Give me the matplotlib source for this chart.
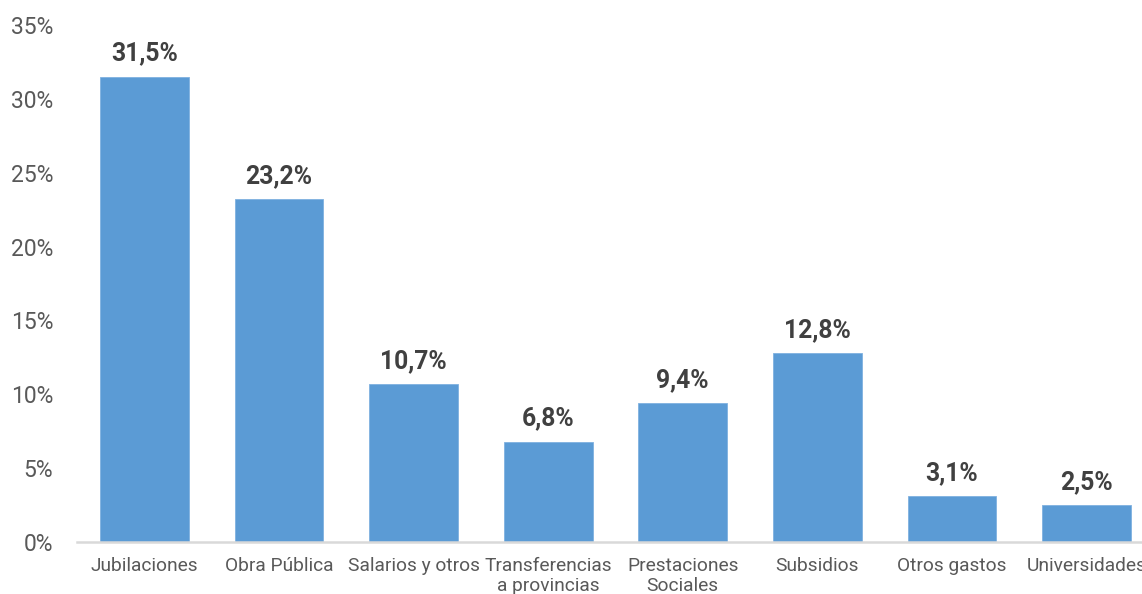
import matplotlib
matplotlib.use("Agg")
import matplotlib.pyplot as plt
from matplotlib.ticker import FuncFormatter

categories = ["Jubilaciones", "Obra Pública", "Salarios y otros", "Transferencias\na provincias",
              "Prestaciones\nSociales", "Subsidios", "Otros gastos", "Universidades"]
values = [31.5, 23.2, 10.7, 6.8, 9.4, 12.8, 3.1, 2.5]
value_labels = ["31,5%", "23,2%", "10,7%", "6,8%", "9,4%", "12,8%", "3,1%", "2,5%"]
yticks = [0, 5, 10, 15, 20, 25, 30, 35]

plt.rcParams['font.family'] = ['Roboto', 'DejaVu Sans']

W, H = 1142, 594
fig = plt.figure(figsize=(W / 100, H / 100), dpi=100)
ax = fig.add_axes([77 / W, 52 / H, 1077 / W, 517 / H])

x = list(range(len(categories)))
bars = ax.bar(x, values, width=0.66, color="#5B9BD5", edgecolor="#7FB1E0", linewidth=0.6)

for xi, v, lab in zip(x, values, value_labels):
    ax.annotate(lab, (xi, v), xytext=(0, 8), textcoords="offset points",
                ha="center", va="bottom", fontsize=17.8, fontweight="bold", color="#404040")

ax.set_xlim(-0.5, len(categories) - 0.5)
ax.set_ylim(0, 35)
ax.set_yticks(yticks)
ax.yaxis.set_major_formatter(FuncFormatter(lambda v, p: f"{int(v)}%"))
ax.set_xticks(x)
ax.set_xticklabels(categories, fontsize=13.8, color="#595959", linespacing=1.15)
ax.tick_params(axis="y", length=0, pad=17, labelsize=16.5, labelcolor="#595959")
ax.tick_params(axis="x", length=0, pad=11)

for s in ["top", "right", "left"]:
    ax.spines[s].set_visible(False)
ax.spines["bottom"].set_color("#D9D9D9")
ax.spines["bottom"].set_linewidth(1.8)

fig.savefig("out.png", dpi=100)
